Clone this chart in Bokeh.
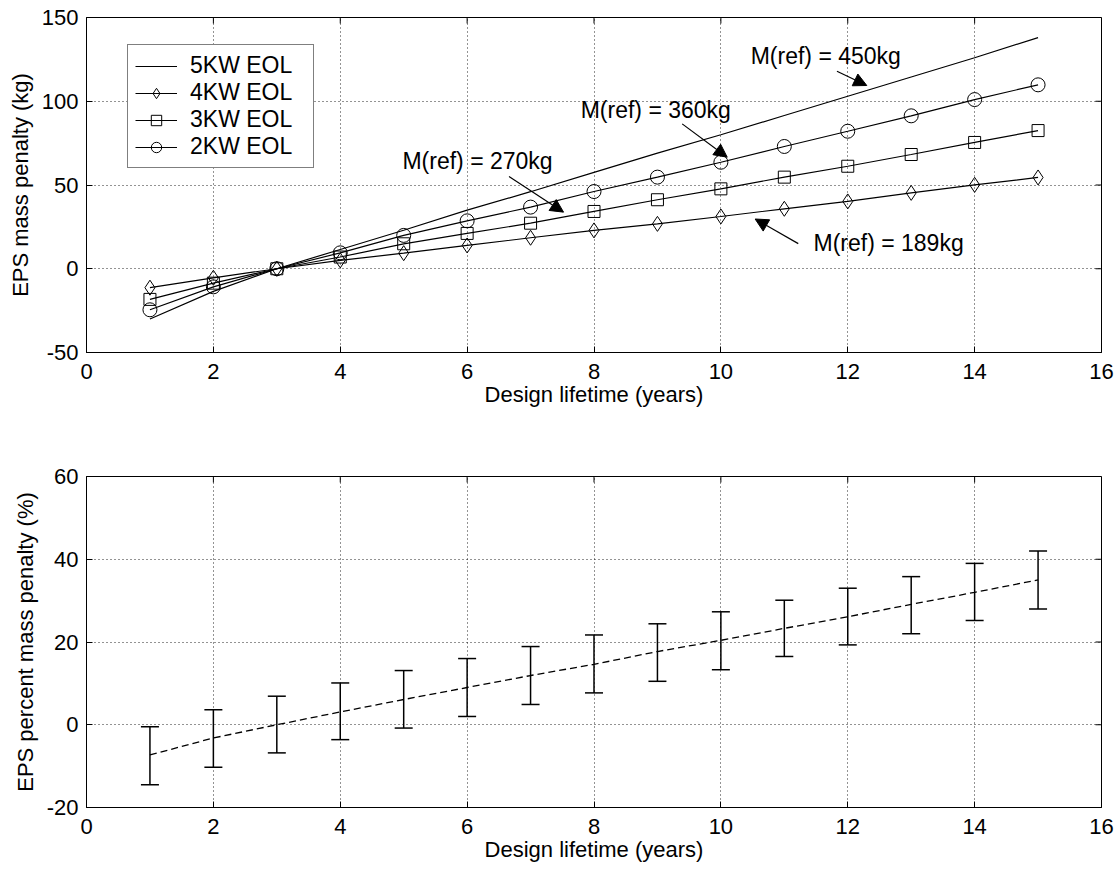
import math
from bokeh.plotting import figure
from bokeh.models import (Range1d, FixedTicker, Legend, LegendItem,
                          Arrow, NormalHead, Label, Whisker, TeeHead, ColumnDataSource)
from bokeh.layouts import column
from bokeh.embed import file_html
from bokeh.resources import INLINE

# ---------------- data ----------------
years = [1, 2, 3, 4, 5, 6, 7, 8, 9, 10, 11, 12, 13, 14, 15]
penalty_5kw = [-30, -13.5, 0, 11.5, 23, 35, 46, 57.5, 69, 80, 91.5, 103, 114.5, 126, 138]
penalty_4kw = [-11.3, -5.4, 0, 5, 9.3, 13.9, 18.5, 22.9, 26.8, 31.2, 35.8, 40.2, 45.3, 50.1, 54.5]
penalty_3kw = [-18.3, -8.6, 0, 7, 14.9, 21.1, 27.2, 34.2, 41.2, 47.7, 54.7, 61.2, 68.2, 75.4, 82.5]
penalty_2kw = [-24.5, -10.8, 0, 9.5, 19.9, 28.6, 36.8, 46.1, 54.7, 63.6, 73, 82.1, 91.3, 101, 109.8]

pct_mean = [-7.3, -3.2, 0, 3.1, 6.1, 9.0, 11.9, 14.6, 17.7, 20.4, 23.3, 26.1, 29.1, 32.0, 35.0]
pct_upper = [-0.5, 3.6, 6.9, 10.1, 13.1, 16.0, 18.9, 21.7, 24.4, 27.3, 30.1, 33.0, 35.8, 39.0, 42.0]
pct_lower = [-14.5, -10.3, -6.8, -3.6, -0.8, 2.0, 4.9, 7.7, 10.5, 13.3, 16.5, 19.3, 22.0, 25.2, 28.0]

x_ticks = [0, 2, 4, 6, 8, 10, 12, 14, 16]
y1_ticks = [-50, 0, 50, 100, 150]
y2_ticks = [-20, 0, 20, 40, 60]

legend_labels = ["5KW EOL", "4KW EOL", "3KW EOL", "2KW EOL"]
annot_texts = ["M(ref) = 450kg", "M(ref) = 360kg", "M(ref) = 270kg", "M(ref) = 189kg"]

FONT = "Liberation Sans"
FS = "22px"
W = 1116
LEFT, RIGHT = 86, 15
FRAME_W = W - LEFT - RIGHT


def style_axis(ax, ticks):
    ax.ticker = FixedTicker(ticks=ticks)
    ax.major_tick_in = 6
    ax.major_tick_out = 0
    ax.minor_tick_in = 0
    ax.minor_tick_out = 0
    ax.axis_line_color = "black"
    ax.major_tick_line_color = "black"
    ax.major_label_text_font = FONT
    ax.major_label_text_font_size = FS
    ax.major_label_text_color = "black"
    ax.axis_label_text_font = FONT
    ax.axis_label_text_font_style = "normal"
    ax.axis_label_text_font_size = FS
    ax.axis_label_text_color = "black"
    ax.major_label_overrides = {t: ("-%g" % abs(t)) for t in ticks if t < 0}


def make_fig(height, top, bottom, yr, yt, ylabel):
    p = figure(width=W, height=height, output_backend="svg", toolbar_location=None,
               x_range=Range1d(0, 16), y_range=Range1d(*yr),
               min_border_left=LEFT, min_border_right=RIGHT,
               min_border_top=top, min_border_bottom=bottom)
    p.background_fill_color = "white"
    p.border_fill_color = "white"
    p.outline_line_color = "black"
    p.outline_line_width = 1
    style_axis(p.xaxis[0], x_ticks)
    style_axis(p.yaxis[0], yt)
    p.xaxis[0].major_label_standoff = 11
    p.yaxis[0].major_label_standoff = 8
    p.xaxis[0].axis_label = "Design lifetime (years)"
    p.xaxis[0].axis_label_standoff = 0
    p.yaxis[0].axis_label = ylabel
    p.yaxis[0].axis_label_standoff = 6
    for g in (p.xgrid[0], p.ygrid[0]):
        g.grid_line_color = "black"
        g.grid_line_alpha = 0.85
        g.grid_line_width = 1
        g.grid_line_dash = "1 3"
    p.xgrid[0].ticker = FixedTicker(ticks=x_ticks)
    p.ygrid[0].ticker = FixedTicker(ticks=yt)
    # mirrored inward ticks on the top and right edges (6 px long)
    frame_h = height - top - bottom
    dy = 3 * (yr[1] - yr[0]) / frame_h
    dx = 3 * 16 / FRAME_W
    p.scatter(x_ticks, [yr[1] - dy] * len(x_ticks), marker="dash", angle=math.pi / 2,
              size=6, line_color="black", line_width=1)
    p.scatter([16 - dx] * len(yt), yt, marker="dash", size=6,
              line_color="black", line_width=1)
    return p


# ---------------- top figure ----------------
p1 = make_fig(438, 17, 86, (-50, 150), y1_ticks, "EPS mass penalty (kg)")

lw = 1.2
r5 = p1.line(years, penalty_5kw, line_color="black", line_width=lw)
r4l = p1.line(years, penalty_4kw, line_color="black", line_width=lw)
r4m = p1.scatter(years, penalty_4kw, marker="diamond", size=15, line_color="black",
                 fill_alpha=0, line_width=1)
r3l = p1.line(years, penalty_3kw, line_color="black", line_width=lw)
r3m = p1.scatter(years, penalty_3kw, marker="square", size=12, line_color="black",
                 fill_alpha=0, line_width=1)
r2l = p1.line(years, penalty_2kw, line_color="black", line_width=lw)
r2m = p1.scatter(years, penalty_2kw, marker="circle", size=14, line_color="black",
                 fill_alpha=0, line_width=1)

legend = Legend(items=[
    LegendItem(label=legend_labels[0], renderers=[r5]),
    LegendItem(label=legend_labels[1], renderers=[r4l, r4m]),
    LegendItem(label=legend_labels[2], renderers=[r3l, r3m]),
    LegendItem(label=legend_labels[3], renderers=[r2l, r2m]),
], location=(41, 184))
legend.margin = 0
legend.padding = 7
legend.spacing = 0
legend.glyph_width = 42
legend.glyph_height = 26
legend.label_height = 26
legend.label_width = 116
legend.label_standoff = 13
legend.label_text_font = FONT
legend.label_text_font_size = "23px"
legend.label_text_color = "black"
legend.border_line_color = "black"
legend.border_line_width = 1
legend.background_fill_color = "white"
legend.background_fill_alpha = 1
p1.add_layout(legend)

# annotations (data coordinates)
label_pos = [(10.47, 127.3), (7.79, 94.5), (4.98, 64.6), (11.46, 15.1)]
arrow_pos = [((11.83, 117.9), (12.30, 109.4)),
             ((9.39, 86.5), (10.10, 66.6)),
             ((6.66, 55.1), (7.52, 33.8)),
             ((11.22, 15.0), (10.54, 29.7))]
for txt, (lx, ly) in zip(annot_texts, label_pos):
    p1.add_layout(Label(x=lx, y=ly, text=txt, text_font=FONT, text_font_size="23px",
                        text_color="black", text_baseline="middle", text_align="left"))
for (s, e) in arrow_pos:
    p1.add_layout(Arrow(end=NormalHead(size=13, fill_color="black", line_color="black",
                                       line_width=1),
                        x_start=s[0], y_start=s[1], x_end=e[0], y_end=e[1],
                        line_color="black", line_width=1.2))

# ---------------- bottom figure ----------------
p2 = make_fig(426, 38, 56, (-20, 60), y2_ticks, "EPS percent mass penalty (%)")
p2.line(years, pct_mean, line_color="black", line_width=1.3, line_dash="7 4")
src = ColumnDataSource(dict(x=years, upper=pct_upper, lower=pct_lower))
p2.add_layout(Whisker(source=src, base="x", upper="upper", lower="lower",
                      line_color="black", line_width=1.5,
                      upper_head=TeeHead(size=18, line_color="black", line_width=1.5),
                      lower_head=TeeHead(size=18, line_color="black", line_width=1.5)))

layout = column(p1, p2, spacing=0)
open("out.html", "w").write(file_html(layout, INLINE))
